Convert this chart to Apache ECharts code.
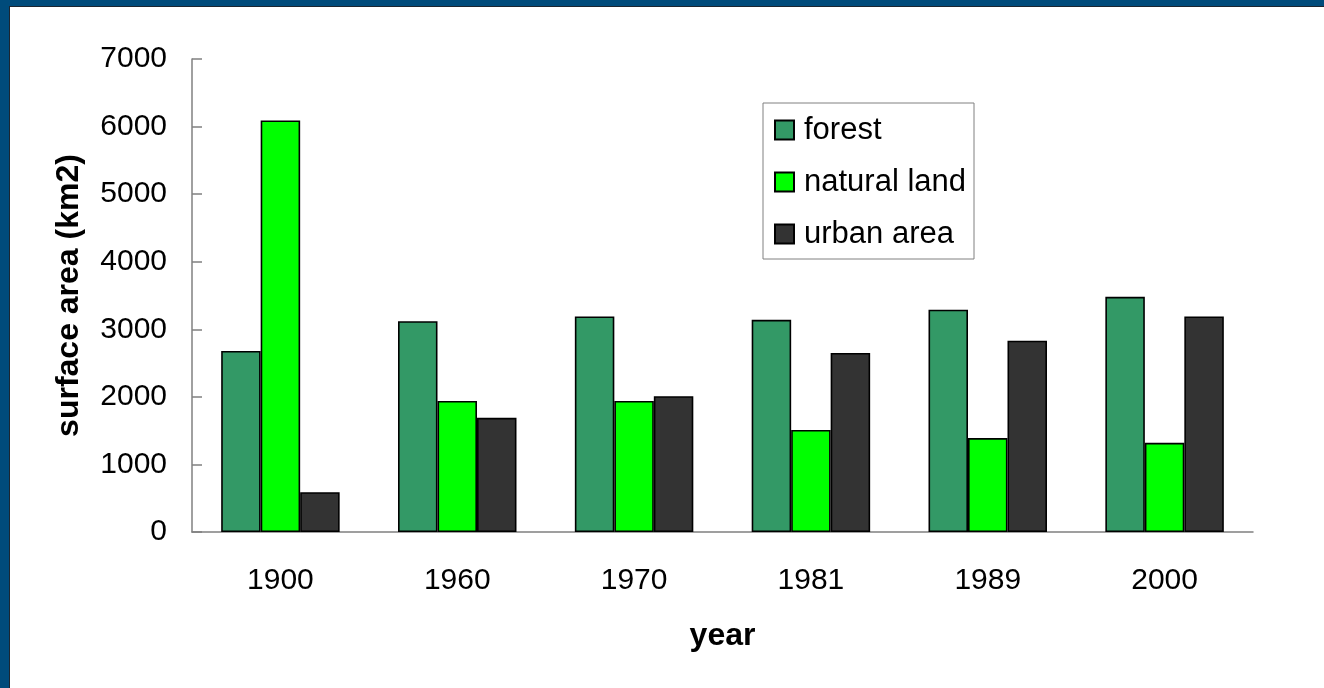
<!DOCTYPE html>
<html>
<head>
<meta charset="utf-8">
<script src="https://cdn.jsdelivr.net/npm/echarts@6/dist/echarts.min.js"></script>
<style>
html,body{margin:0;padding:0;width:1324px;height:688px;overflow:hidden;background:#004b7b;}
#c{width:1324px;height:688px;}
</style>
</head>
<body>
<div id="c"></div>
<script>
var categories = ['1900', '1960', '1970', '1981', '1989', '2000'];
var forest = [2680, 3120, 3190, 3140, 3290, 3480];
var naturalLand = [6090, 1940, 1940, 1510, 1390, 1320];
var urbanArea = [590, 1690, 2010, 2650, 2830, 3190];
var yTicks = [0, 1000, 2000, 3000, 4000, 5000, 6000, 7000];

var FONT = '"Liberation Sans", Arial, sans-serif';
var chart = echarts.init(document.getElementById('c'), null, {renderer: 'canvas'});

function barSeries(name, data, color) {
  return {
    name: name,
    type: 'bar',
    data: data,
    barGap: '0%',
    barCategoryGap: '33%',
    itemStyle: {color: color, borderColor: '#000', borderWidth: 1.6},
    emphasis: {disabled: true}
  };
}

chart.setOption({
  animation: false,
  backgroundColor: 'transparent',
  graphic: [
    {type: 'rect', z: -10, silent: true, shape: {x: 0, y: 0, width: 1324, height: 688}, style: {fill: '#004b7b'}},
    {type: 'rect', z: -9, silent: true, shape: {x: 9, y: 6, width: 1315, height: 682}, style: {fill: '#1c2530'}},
    {type: 'rect', z: -8, silent: true, shape: {x: 10, y: 7, width: 1314, height: 681}, style: {fill: '#ffffff'}}
  ],
  grid: {left: 192, top: 59, right: 71, bottom: 156, containLabel: false},
  legend: {
    orient: 'vertical',
    left: 763,
    top: 103,
    padding: [10, 8, 8, 11],
    borderColor: '#808080',
    borderWidth: 1,
    backgroundColor: '#ffffff',
    itemWidth: 19,
    itemHeight: 19,
    itemGap: 18,
    icon: 'rect',
    selectedMode: false,
    textStyle: {fontFamily: FONT, fontSize: 31, color: '#000', lineHeight: 34, padding: [0, 0, 0, 5]},
    data: ['forest', 'natural land', 'urban area']
  },
  xAxis: {
    type: 'category',
    data: categories,
    name: 'year',
    nameLocation: 'middle',
    nameGap: 88,
    nameTextStyle: {fontFamily: FONT, fontSize: 32, fontWeight: 'bold', color: '#000'},
    axisLine: {lineStyle: {color: '#808080', width: 1.5}},
    axisTick: {show: false},
    axisLabel: {fontFamily: FONT, fontSize: 30, color: '#000', margin: 34},
    splitLine: {show: false}
  },
  yAxis: {
    type: 'value',
    min: yTicks[0],
    max: yTicks[yTicks.length - 1],
    interval: 1000,
    name: 'surface area (km2)',
    nameLocation: 'middle',
    nameGap: 107,
    nameTextStyle: {fontFamily: FONT, fontSize: 32, fontWeight: 'bold', color: '#000'},
    axisLine: {show: true, lineStyle: {color: '#808080', width: 1.5}},
    axisTick: {show: true, inside: true, length: 10, lineStyle: {color: '#808080', width: 1.5}},
    axisLabel: {fontFamily: FONT, fontSize: 30, color: '#000', margin: 25, formatter: function (v) { return String(v); }},
    splitLine: {show: false}
  },
  series: [
    barSeries('forest', forest, '#339966'),
    barSeries('natural land', naturalLand, '#00ff00'),
    barSeries('urban area', urbanArea, '#333333')
  ]
});
</script>
</body>
</html>
